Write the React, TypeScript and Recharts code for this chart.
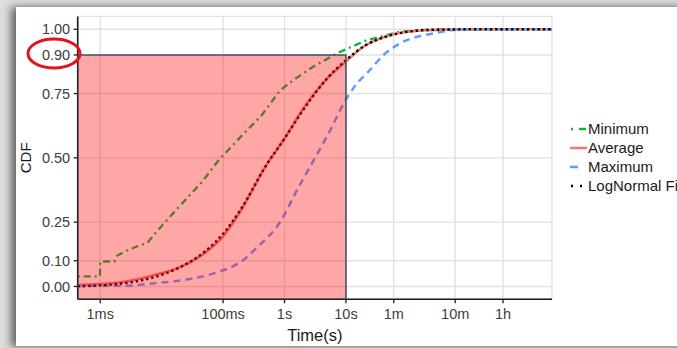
import React from 'react';
import {
  ComposedChart,
  Line,
  XAxis,
  YAxis,
  CartesianGrid,
  ReferenceArea,
  Legend
} from 'recharts';

// time in seconds, CDF values
const minT = [0.00043, 0.00099, 0.001, 0.0017, 0.0019, 0.0029, 0.0059, 0.0116, 0.0245, 0.046, 0.0855, 0.248, 0.407, 0.86, 1.4, 2.96, 7.2, 22, 77, 264, 1000, 22600];
const minV = [0.039, 0.039, 0.097, 0.097, 0.12, 0.143, 0.171, 0.253, 0.337, 0.408, 0.492, 0.609, 0.66, 0.764, 0.803, 0.855, 0.907, 0.958, 0.991, 1.0, 1.0, 1.0];

const avgT = [0.00043, 0.001, 0.002, 0.005, 0.01, 0.02, 0.05, 0.1, 0.2, 0.5, 1, 2, 5, 10, 20, 50, 100, 200, 500, 1000, 22600];
const avgV = [0.005, 0.009, 0.015, 0.033, 0.052, 0.075, 0.13, 0.195, 0.3, 0.47, 0.575, 0.69, 0.81, 0.875, 0.935, 0.975, 0.99, 0.996, 0.999, 1.0, 1.0];
const fitV = [0.001, 0.004, 0.01, 0.025, 0.045, 0.075, 0.135, 0.205, 0.305, 0.47, 0.575, 0.685, 0.81, 0.88, 0.935, 0.975, 0.99, 0.997, 0.999, 1.0, 1.0];

const maxT = [0.00043, 0.0026, 0.0089, 0.0245, 0.0755, 0.16, 0.232, 0.337, 0.86, 1.61, 3.0, 5.6, 9.2, 15.2, 22, 41, 77, 144, 268, 566, 1540, 22600];
const maxV = [0.002, 0.003, 0.014, 0.026, 0.053, 0.084, 0.11, 0.146, 0.253, 0.376, 0.492, 0.609, 0.712, 0.79, 0.829, 0.9, 0.946, 0.971, 0.984, 0.997, 1.0, 1.0];

const xTicks = [0.001, 0.1, 1, 10, 60, 600, 3600];
const xTickLabels = ['1ms', '100ms', '1s', '10s', '1m', '10m', '1h'];
const yTicks = [0, 0.1, 0.25, 0.5, 0.75, 0.9, 1];

const xMin = 0.00043;
const xMax = 22600;
const cutoffT = 10;
const cutoffP = 0.9;

const toRows = (ts: number[], vs: number[]) => ts.map((t, i) => ({ t, v: vs[i] }));
const minData = toRows(minT, minV);
const avgData = toRows(avgT, avgV);
const fitData = toRows(avgT, fitV);
const maxData = toRows(maxT, maxV);

const font = '"Liberation Sans", Arial, Helvetica, sans-serif';

const legendItems = [
  { name: 'Minimum', color: '#00BA38', dash: '2 6 7 3', offset: -1 },
  { name: 'Average', color: '#F8766D', dash: undefined, offset: 0 },
  { name: 'Maximum', color: '#619CFF', dash: '8 20', offset: 0 },
  { name: 'LogNormal Fit', color: '#000000', dash: '2 7', offset: -1 }
];

function LegendBox() {
  return (
    <div style={{ position: 'absolute', left: 568, top: 119, fontFamily: font, fontSize: 15, color: '#1a1a1a' }}>
      {legendItems.map((it) => (
        <div key={it.name} style={{ display: 'flex', alignItems: 'center', height: 19, whiteSpace: 'nowrap' }}>
          <svg width={20} height={19} style={{ display: 'block' }}>
            <line x1={2} y1={10} x2={19} y2={10} stroke={it.color} strokeWidth={2.5}
              strokeDasharray={it.dash} strokeDashoffset={it.offset} />
          </svg>
          <span>{it.name}</span>
        </div>
      ))}
    </div>
  );
}

export default function App() {
  return (
    <div style={{ position: 'absolute', left: 0, top: 0, width: 677, height: 348, overflow: 'hidden', background: '#dedede' }}>
      <div style={{
        position: 'absolute', left: 16, top: 6, width: 700, height: 339, background: '#fff',
        borderTop: '1px solid #9c9c9c', boxShadow: '-5px 1px 8px rgba(0,0,0,0.55)'
      }} />
      <div style={{ position: 'absolute', left: 0, top: 0 }}>
        <ComposedChart width={677} height={348} margin={{ top: 16.4, right: 125, bottom: 0, left: 0 }}>
          <CartesianGrid stroke="#e2e2e2" strokeWidth={1.4} />
          <XAxis
            type="number"
            dataKey="t"
            scale="log"
            domain={[xMin, xMax]}
            allowDataOverflow
            ticks={xTicks}
            interval={0}
            tickFormatter={(v: number) => xTickLabels[xTicks.indexOf(v)] ?? ''}
            height={48.7}
            tickSize={4}
            tickMargin={5}
            axisLine={{ stroke: '#1a1a1a', strokeWidth: 1.6 }}
            tickLine={{ stroke: '#1a1a1a', strokeWidth: 1.3 }}
            tick={{ fill: '#3d3d3d', fontSize: 14.5, fontFamily: font }}
            label={{ value: 'Time(s)', position: 'insideBottom', offset: 7, fill: '#1a1a1a', fontSize: 16.5, fontFamily: font }}
          />
          <YAxis
            type="number"
            domain={[-0.05, 1.05]}
            allowDataOverflow
            ticks={yTicks}
            interval={0}
            tickFormatter={(v: number) => v.toFixed(2)}
            width={77.7}
            tickSize={4}
            tickMargin={3.5}
            axisLine={{ stroke: '#1a1a1a', strokeWidth: 1.6 }}
            tickLine={{ stroke: '#1a1a1a', strokeWidth: 1.3 }}
            tick={{ fill: '#3d3d3d', fontSize: 14.5, fontFamily: font }}
            label={{ value: 'CDF', angle: -90, position: 'center', dx: -13, fill: '#1a1a1a', fontSize: 15, fontFamily: font }}
          />
          <Line data={minData} dataKey="v" type="linear" stroke="#00BA38" strokeWidth={2.3}
            strokeDasharray="2 4 7 4" dot={false} isAnimationActive={false} />
          <Line data={avgData} dataKey="v" type="monotone" stroke="#F8766D" strokeWidth={2.6}
            dot={false} isAnimationActive={false} />
          <Line data={maxData} dataKey="v" type="monotone" stroke="#619CFF" strokeWidth={2.5}
            strokeDasharray="7 5" dot={false} isAnimationActive={false} />
          <Line data={fitData} dataKey="v" type="monotone" stroke="#000000" strokeWidth={2.4}
            strokeDasharray="2.3 3" dot={false} isAnimationActive={false} />
          <ReferenceArea
            x1={xMin}
            x2={cutoffT}
            y1={-0.05}
            y2={cutoffP}
            fill="#ff0000"
            fillOpacity={0.35}
            stroke="#45526c"
            strokeWidth={1.6}
            ifOverflow="hidden"
            zIndex={1000}
          />
          <Legend content={() => null} />
        </ComposedChart>
      </div>
      <LegendBox />
      <svg width={677} height={348} style={{ position: 'absolute', left: 0, top: 0, pointerEvents: 'none' }}>
        <ellipse cx={54} cy={53.5} rx={26} ry={14.5} fill="none" stroke="#e3131b" strokeWidth={3} />
      </svg>
    </div>
  );
}
